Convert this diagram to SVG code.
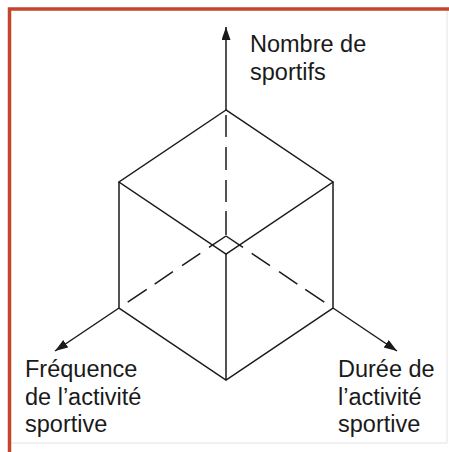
<svg xmlns="http://www.w3.org/2000/svg" width="449" height="452" viewBox="0 0 449 452">
  <style>
    .edge { fill: none; stroke: #1a1a1a; stroke-width: 1.5; stroke-linecap: butt; stroke-linejoin: miter; }
    .label { font-family: "Liberation Sans", Arial, sans-serif; font-size: 23.5px; fill: #1a1a1a; }
  </style>
  <defs>
    <marker id="arrow" markerUnits="userSpaceOnUse" markerWidth="14" markerHeight="10" refX="13" refY="4.5" orient="auto">
      <path d="M0,0 L13,4.5 L0,9 z" fill="#1a1a1a"/>
    </marker>
  </defs>
  <rect width="449" height="452" fill="#ffffff"/>
  <g id="frame">
    <path d="M447,11 V443 H11" fill="none" stroke="#e2e2e2" stroke-width="1"/>
    <path d="M9.5,452 V9 H449" fill="none" stroke="#c4452c" stroke-width="3.5"/>
  </g>
  <g id="connectors">
    <path class="edge" d="M226,110 V27" marker-end="url(#arrow)"/>
    <path class="edge" d="M119,308 L55,351" marker-end="url(#arrow)"/>
    <path class="edge" d="M333,308 L397,351" marker-end="url(#arrow)"/>
  </g>
  <g id="cube">
    <path class="edge" d="M226,110 L119,182 L226,254 L333,182 Z"/>
    <path class="edge" d="M119,182 V308 L226,380 L333,308 V182"/>
    <path class="edge" d="M226,254 V380"/>
    <path class="edge" d="M226,235 V110" stroke-dasharray="24 9 22 10 23 10 22 20"/>
    <path class="edge" d="M226,236 L119,308" stroke-dasharray="20.5 10.5 22 11 22 9.5 23 20"/>
    <path class="edge" d="M226,236 L333,308" stroke-dasharray="20.5 10.5 22 11 22 9.5 23 20"/>
  </g>
  <g id="label-nombre">
    <text class="label" x="250" y="52">Nombre de</text>
    <text class="label" x="250" y="79.5">sportifs</text>
  </g>
  <g id="label-frequence">
    <text class="label" x="25" y="377">Fréquence</text>
    <text class="label" x="25" y="405">de l’activité</text>
    <text class="label" x="25" y="432">sportive</text>
  </g>
  <g id="label-duree">
    <text class="label" x="338" y="377">Durée de</text>
    <text class="label" x="338" y="405">l’activité</text>
    <text class="label" x="338" y="432">sportive</text>
  </g>
</svg>
